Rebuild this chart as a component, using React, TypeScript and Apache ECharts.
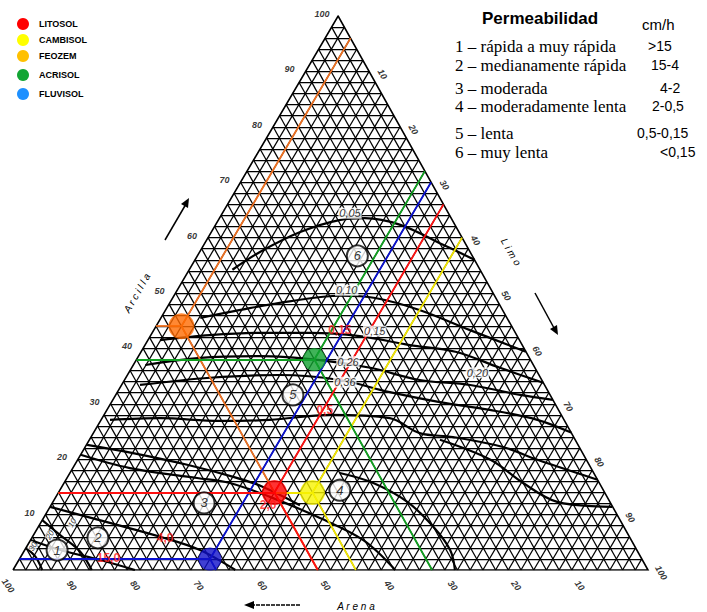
import React, { useEffect, useRef } from "react";
import * as echarts from "echarts";

// ---------- DATA ----------
const SKEW = 0.512; // apex offset of the drawn triangle

const soilNames = ["LITOSOL", "CAMBISOL", "FEOZEM", "ACRISOL", "FLUVISOL"];
const soilSand = [52, 46, 52, 34, 68];
const soilSilt = [34, 40, 4, 28, 30];
const soilClay = [14, 14, 44, 38, 2];
const soilPointColors = ["#ff0000", "#f8f400", "#ff6a00", "#10a030", "#1010c8"];
const soilLineColors = ["#ff1010", "#f2e600", "#ee7020", "#10a020", "#0a10d0"];
const soilPointSizes = [25, 25, 26, 23, 23];
const legendColors = ["#ff0000", "#ffff00", "#ffc000", "#12a534", "#1e90ff"];

const axisTicks = [10, 20, 30, 40, 50, 60, 70, 80, 90, 100];
const gridStep = 2;

const zoneIds = ["1", "2", "3", "4", "5", "6"];
const zoneSilt = [5.1, 10.4, 23.9, 44.1, 27.9, 25.2];
const zoneClay = [3.6, 5.8, 12.1, 14.4, 31.6, 56.7];

// permeability contours: [silt, clay]
const c005 = [[6.8, 54.2], [9.5, 57.4], [14.0, 61.0], [19.2, 63.2], [22.9, 63.5], [29.1, 62.3], [37.0, 59.0], [44.0, 56.0]];
const c010 = [[6.2, 45.5], [11.6, 46.9], [18.7, 48.5], [26.2, 49.5], [31.9, 49.1], [40.1, 46.9], [49.8, 43.3], [60.6, 39.4]];
const c015 = [[1.9, 41.5], [9.3, 42.4], [17.0, 42.8], [24.9, 42.8], [33.0, 42.2], [41.7, 40.6], [49.5, 39.4], [58.0, 36.5], [66.2, 33.8]];
const c020 = [[1.9, 37.0], [9.9, 38.3], [19.1, 38.6], [28.9, 37.9], [37.6, 36.5], [46.5, 34.3], [54.9, 33.4], [63.7, 31.6], [69.3, 30.7]];
const c036 = [[2.9, 33.4], [13.3, 34.7], [24.0, 35.2], [33.9, 34.3], [42.9, 32.1], [51.7, 30.3], [60.3, 28.9], [68.7, 27.1], [75.2, 24.8]];
const c050 = [[1.4, 27.1], [9.1, 27.4], [18.8, 26.9], [26.6, 27.1], [35.6, 28.0], [45.3, 27.4], [51.4, 24.7], [57.0, 24.0], [65.8, 22.2], [72.4, 19.9], [83.7, 16.3]];
const c100 = [[55.2, 23.5], [65.0, 19.9], [72.3, 15.7], [79.4, 12.3], [88.5, 11.4]];
const c120 = [[42.5, 17.5], [48.7, 15.7], [55.8, 12.3], [62.2, 7.8], [67.0, 3.6], [69.6, 0]];
const c150 = [[0.1, 22.6], [8.1, 21.1], [17.7, 19.0], [26.1, 16.8], [31.7, 15.0], [39.2, 11.7]];
const c200 = [[0, 20.8], [9.0, 18.4], [20.5, 16.6], [26.1, 15.7], [33.7, 13.2], [43.0, 9.6], [52.4, 5.4], [60.2, 0]];
const c400 = [[0, 11.4], [10.9, 8.5], [20.1, 6.0], [27.6, 3.6], [35.0, 0]];
const c800 = [[0, 9.0], [4.2, 6.3], [8.9, 3.3], [12.4, 0]];
const c1500 = [[0, 5.4], [5.6, 3.6], [12.8, 1.8], [19.2, 0]];
const c3000 = [[0, 4.0], [2.3, 2.4], [4.6, 0]];
const contours = [c005, c010, c015, c020, c036, c050, c100, c120, c150, c200, c400, c800, c1500, c3000];

// contour labels
const redLabelText = ["0,15", "0,5", "2,0", "4,0", "15,0"];
const redLabelSilt = [29.3, 34.3, 34.2, 21.0, 13.9];
const redLabelClay = [43.3, 28.9, 11.7, 5.8, 2.2];
const blackLabelText = ["0,05", "0,10", "0,15", "0,26", "0,36", "0,20"];
const blackLabelSilt = [20.1, 26.7, 34.9, 33.5, 34.9, 54.9];
const blackLabelClay = [64.4, 50.5, 43.1, 37.6, 33.9, 35.6];
const cornerLabelText = ["30", "20", "10"];
const cornerLabelSilt = [1.0, 2.6, 5.0];
const cornerLabelClay = [4.2, 6.3, 8.5];

const permTitle = "Permeabilidad";
const permUnit = "cm/h";
const permClasses = ["1 – rápida a muy rápida", "2 – medianamente rápida", "3 – moderada", "4 – moderadamente lenta", "5 – lenta", "6 – muy lenta"];
const permRanges = [">15", "15-4", "4-2", "2-0,5", "0,5-0,15", "<0,15"];

// ---------- HELPERS ----------
const proj = (silt: number, clay: number) => [silt + SKEW * clay, clay];

function gridSegments() {
  const segs: any[] = [];
  for (let v = gridStep; v < 100; v += gridStep) {
    segs.push({ coords: [proj(0, v), proj(100 - v, v)] });
    segs.push({ coords: [proj(v, 0), proj(v, 100 - v)] });
    segs.push({ coords: [proj(100 - v, 0), proj(0, 100 - v)] });
  }
  return segs;
}

const hidden = { symbolSize: 1, itemStyle: { color: "rgba(0,0,0,0)" } };

function buildOption() {
  const series: any[] = [];
  series.push({
    type: "lines",
    coordinateSystem: "cartesian2d",
    silent: true,
    lineStyle: { color: "#000", width: 1.25, opacity: 1 },
    data: gridSegments(),
    z: 1,
  });
  series.push({
    type: "lines",
    coordinateSystem: "cartesian2d",
    polyline: true,
    silent: true,
    lineStyle: { color: "#000", width: 1.6, opacity: 1 },
    data: [{ coords: [proj(0, 0), proj(100, 0), proj(0, 100), proj(0, 0)] }],
    z: 2,
  });
  contours.forEach((c) => {
    series.push({
      type: "line",
      data: c.map((p) => proj(p[0], p[1])),
      smooth: 0.35,
      symbol: "none",
      silent: true,
      lineStyle: { color: "#000", width: 2.2 },
      z: 3,
    });
  });
  const order = [1, 2, 3, 4, 0];
  order.forEach((i) => {
    const L = soilSilt[i];
    const C = soilClay[i];
    const p = proj(L, C);
    series.push({
      type: "lines",
      coordinateSystem: "cartesian2d",
      silent: true,
      lineStyle: { color: soilLineColors[i], width: 1.8, opacity: 1 },
      data: [
        { coords: [p, proj(0, C)] },
        { coords: [p, proj(L, 100 - L)] },
        { coords: [p, proj(L + C, 0)] },
      ],
      z: 4,
    });
  });
  series.push({
    type: "scatter",
    silent: true,
    z: 6,
    data: soilNames.map((n, i) => ({
      name: n,
      value: proj(soilSilt[i], soilClay[i]),
      symbolSize: soilPointSizes[i],
      itemStyle: { color: soilPointColors[i] },
    })),
  });
  series.push({
    type: "scatter",
    silent: true,
    z: 5,
    symbolSize: 21,
    itemStyle: { color: "#fff", borderColor: "#000", borderWidth: 2 },
    label: { show: true, position: "inside", formatter: "{b}", color: "#000", fontSize: 13, fontFamily: "Liberation Sans", fontStyle: "italic" },
    data: zoneIds.map((n, i) => ({ name: n, value: proj(zoneSilt[i], zoneClay[i]) })),
  });
  series.push({
    type: "scatter", silent: true, z: 7, ...hidden,
    label: { show: true, position: "inside", formatter: "{b}", color: "#ff1a1a", fontSize: 12, fontWeight: "bold", fontFamily: "Liberation Sans" },
    data: redLabelText.map((n, i) => ({ name: n, value: proj(redLabelSilt[i], redLabelClay[i]) })),
  });
  series.push({
    type: "scatter", silent: true, z: 5, ...hidden,
    label: { show: true, position: "inside", formatter: "{b}", color: "#000", fontSize: 11, fontStyle: "italic", fontFamily: "Liberation Sans", backgroundColor: "#fff", padding: [0, 1] },
    data: blackLabelText.map((n, i) => ({ name: n, value: proj(blackLabelSilt[i], blackLabelClay[i]) })),
  });
  series.push({
    type: "scatter", silent: true, z: 5, ...hidden,
    label: { show: true, position: "inside", formatter: "{b}", color: "#000", fontSize: 8, fontStyle: "italic", fontFamily: "Liberation Sans", rotate: 60, backgroundColor: "#fff" },
    data: cornerLabelText.map((n, i) => ({ name: n, value: proj(cornerLabelSilt[i], cornerLabelClay[i]) })),
  });
  const tickFont = { color: "#000", fontSize: 9, fontStyle: "italic", fontWeight: "bold", fontFamily: "Liberation Sans" };
  // clay ticks (left)
  series.push({
    type: "scatter", silent: true, ...hidden,
    label: { show: true, position: "inside", formatter: "{b}", offset: [-16, -2], ...tickFont },
    data: axisTicks.map((t) => ({ name: String(t), value: proj(0, t) })),
  });
  // silt ticks (right)
  series.push({
    type: "scatter", silent: true, ...hidden,
    label: { show: true, position: "inside", formatter: "{b}", offset: [9, -10], rotate: -60, ...tickFont },
    data: axisTicks.map((t) => ({ name: String(t), value: proj(t, 100 - t) })),
  });
  // sand ticks (bottom)
  series.push({
    type: "scatter", silent: true, ...hidden,
    label: { show: true, position: "inside", formatter: "{b}", offset: [10, 13], rotate: -55, ...tickFont },
    data: axisTicks.map((t) => ({ name: String(t), value: proj(100 - t, 0) })),
  });

  const graphic: any[] = [];
  soilNames.forEach((n, i) => {
    const ys = [24, 40, 56, 75, 94];
    graphic.push({ type: "circle", shape: { cx: 23, cy: ys[i], r: 6 }, style: { fill: legendColors[i] } });
    graphic.push({
      type: "text", x: 39, y: ys[i],
      style: { text: n, fill: "#000", font: "bold 9px 'Liberation Sans'", textVerticalAlign: "middle" },
    });
  });
  graphic.push({ type: "text", x: 482, y: 18, style: { text: permTitle, fill: "#000", font: "bold 17px 'Liberation Sans'", textVerticalAlign: "middle" } });
  graphic.push({ type: "text", x: 642, y: 24, style: { text: permUnit, fill: "#000", font: "15px 'Liberation Sans'", textVerticalAlign: "middle" } });
  const rowY = [46, 65, 88, 106, 133, 152];
  const rangeX = [648, 651, 660, 652, 637, 660];
  permClasses.forEach((t, i) => {
    graphic.push({ type: "text", x: 455, y: rowY[i], style: { text: t, fill: "#000", font: "17px 'Liberation Serif'", textVerticalAlign: "middle" } });
    graphic.push({ type: "text", x: rangeX[i], y: rowY[i], style: { text: permRanges[i], fill: "#000", font: "14px 'Liberation Sans'", textVerticalAlign: "middle" } });
  });
  // axis titles and arrows
  const titleFont = "italic 10px 'Liberation Sans'";
  graphic.push({ type: "text", x: 137, y: 293, rotation: Math.PI / 3, style: { text: "A r c i l l a", fill: "#000", font: titleFont, textAlign: "center", textVerticalAlign: "middle" } });
  graphic.push({ type: "line", shape: { x1: 165, y1: 240, x2: 186, y2: 204 }, style: { stroke: "#000", lineWidth: 1.5 } });
  graphic.push({ type: "polygon", shape: { points: [[189, 198], [188, 208], [181, 204]] }, style: { fill: "#000" } });
  graphic.push({ type: "text", x: 511, y: 252, rotation: -Math.PI / 3, style: { text: "L i m o", fill: "#000", font: titleFont, textAlign: "center", textVerticalAlign: "middle" } });
  graphic.push({ type: "line", shape: { x1: 535, y1: 293, x2: 554, y2: 328 }, style: { stroke: "#000", lineWidth: 1.5 } });
  graphic.push({ type: "polygon", shape: { points: [[558, 335], [557, 325], [550, 329]] }, style: { fill: "#000" } });
  graphic.push({ type: "text", x: 356, y: 606, style: { text: "A r e n a", fill: "#000", font: titleFont, textAlign: "center", textVerticalAlign: "middle" } });
  graphic.push({ type: "line", shape: { x1: 300, y1: 605, x2: 252, y2: 605 }, style: { stroke: "#000", lineWidth: 1.5, lineDash: [4, 1] } });
  graphic.push({ type: "polygon", shape: { points: [[244, 605], [254, 601], [254, 609]] }, style: { fill: "#000" } });

  return {
    animation: false,
    backgroundColor: "#fff",
    grid: { left: 13, top: 16, width: 635, height: 554, containLabel: false },
    xAxis: { type: "value", min: 0, max: 100, show: false },
    yAxis: { type: "value", min: 0, max: 100, show: false },
    series,
    graphic,
  };
}

export default function App() {
  const ref = useRef<HTMLDivElement>(null);
  useEffect(() => {
    const chart = echarts.init(ref.current!, undefined, { renderer: "svg" });
    chart.setOption(buildOption() as any);
    return () => chart.dispose();
  }, []);
  return <div ref={ref} style={{ position: "fixed", left: 0, top: 0, width: 707, height: 612 }} />;
}
